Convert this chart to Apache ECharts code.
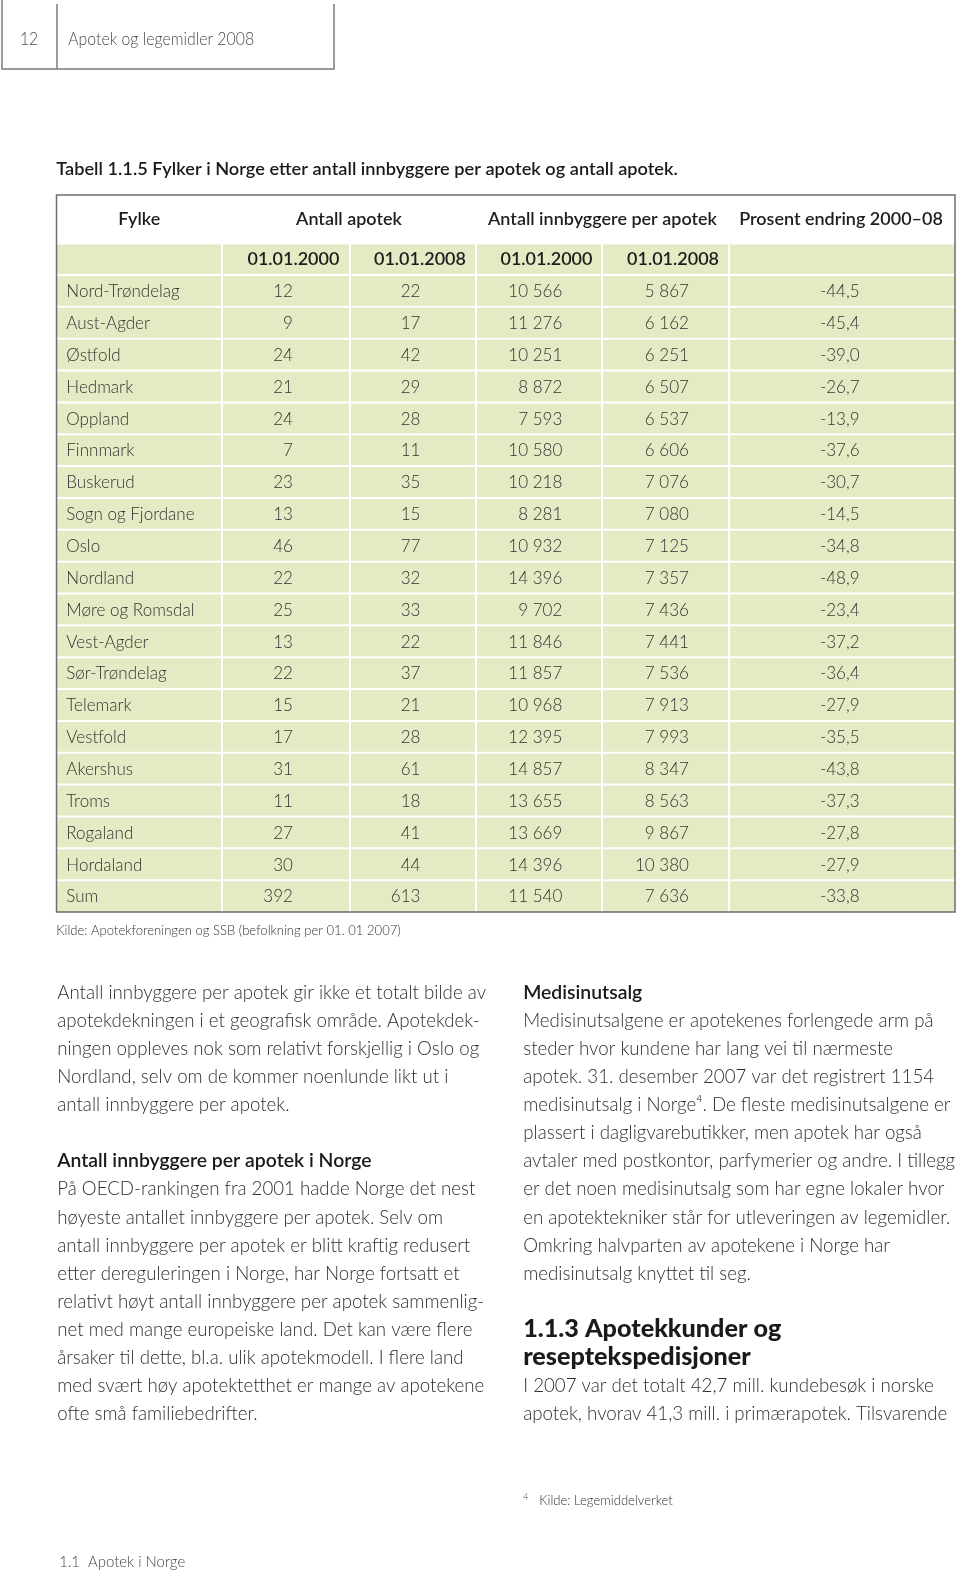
<!DOCTYPE html>
<html><head><meta charset="utf-8">
<script src="https://cdn.jsdelivr.net/npm/echarts@6/dist/echarts.min.js"></script>
<style>html,body{margin:0;padding:0;background:#fff}#c{width:960px;height:1574px}</style>
</head><body><div id="c"></div>
<script>
// ---- DATA ----
const fylker = ['Nord-Trøndelag','Aust-Agder','Østfold','Hedmark','Oppland','Finnmark','Buskerud','Sogn og Fjordane','Oslo','Nordland','Møre og Romsdal','Vest-Agder','Sør-Trøndelag','Telemark','Vestfold','Akershus','Troms','Rogaland','Hordaland','Sum'];
const apotek2000 = [12,9,24,21,24,7,23,13,46,22,25,13,22,15,17,31,11,27,30,392];
const apotek2008 = [22,17,42,29,28,11,35,15,77,32,33,22,37,21,28,61,18,41,44,613];
const innb2000 = [10566,11276,10251,8872,7593,10580,10218,8281,10932,14396,9702,11846,11857,10968,12395,14857,13655,13669,14396,11540];
const innb2008 = [5867,6162,6251,6507,6537,6606,7076,7080,7125,7357,7436,7441,7536,7913,7993,8347,8563,9867,10380,7636];
const endring = [-44.5,-45.4,-39.0,-26.7,-13.9,-37.6,-30.7,-14.5,-34.8,-48.9,-23.4,-37.2,-36.4,-27.9,-35.5,-43.8,-37.3,-27.8,-27.9,-33.8];
const headTop = ['Fylke','Antall apotek','Antall innbyggere per apotek','Prosent endring 2000–08'];
const headSub = ['01.01.2000','01.01.2008','01.01.2000','01.01.2008'];

const pageNo = '12';
const runHead = 'Apotek og legemidler 2008';
const tableTitle = 'Tabell 1.1.5 Fylker i Norge etter antall innbyggere per apotek og antall apotek.';
const kilde = 'Kilde: Apotekforeningen og SSB (befolkning per 01. 01 2007)';
const leftCol = [
 ['Antall innbyggere per apotek gir ikke et totalt bilde av',0],
 ['apotekdekningen i et geografisk område. Apotekdek-',0],
 ['ningen oppleves nok som relativt forskjellig i Oslo og',0],
 ['Nordland, selv om de kommer noenlunde likt ut i',0],
 ['antall innbyggere per apotek.',0],
 ['',0],
 ['Antall innbyggere per apotek i Norge',1],
 ['På OECD-rankingen fra 2001 hadde Norge det nest',0],
 ['høyeste antallet innbyggere per apotek. Selv om',0],
 ['antall innbyggere per apotek er blitt kraftig redusert',0],
 ['etter dereguleringen i Norge, har Norge fortsatt et',0],
 ['relativt høyt antall innbyggere per apotek sammenlig-',0],
 ['net med mange europeiske land. Det kan være flere',0],
 ['årsaker til dette, bl.a. ulik apotekmodell. I flere land',0],
 ['med svært høy apotektetthet er mange av apotekene',0],
 ['ofte små familiebedrifter.',0]
];
const rightCol = [
 ['Medisinutsalg',1],
 ['Medisinutsalgene er apotekenes forlengede arm på',0],
 ['steder hvor kundene har lang vei til nærmeste',0],
 ['apotek. 31. desember 2007 var det registrert 1154',0],
 ['medisinutsalg i Norge⁴. De fleste medisinutsalgene er',0],
 ['plassert i dagligvarebutikker, men apotek har også',0],
 ['avtaler med postkontor, parfymerier og andre. I tillegg',0],
 ['er det noen medisinutsalg som har egne lokaler hvor',0],
 ['en apotektekniker står for utleveringen av legemidler.',0],
 ['Omkring halvparten av apotekene i Norge har',0],
 ['medisinutsalg knyttet til seg.',0]
];
const sectionHead = ['1.1.3 Apotekkunder og','reseptekspedisjoner'];
const sectionBody = ['I 2007 var det totalt 42,7 mill. kundebesøk i norske','apotek, hvorav 41,3 mill. i primærapotek. Tilsvarende'];
const footnote = ['4','Kilde: Legemiddelverket'];
const footer = '1.1  Apotek i Norge';

// ---- helpers ----
const K = 960/956;
const FF = 'Lato';
const WL = '300';
const WB = '600';
const TXT = '#2e2e2e';
const cv = document.createElement('canvas').getContext('2d');
function fit(text, size, weight, target){ cv.font = weight+' '+size+'px '+FF; return target*K/cv.measureText(text).width; }
const sBody = fit(leftCol[0][0],20,WL,427);
const sBodyB = fit('Antall innbyggere per apotek i Norge',20,WB,313);
const sTab = fit('Nord-Trøndelag',18,WL,113);
const sTabB = fit('Antall innbyggere per apotek',18,WB,228);
const sTitle = fit(tableTitle,18,WB,619);
const sSec = fit(sectionHead[0],25,'900',257);
const sSmall = fit(kilde,14,WL,343);
const sRun = fit(runHead,17,WL,185);
function fmtN(v){ return String(v).replace(/\B(?=(\d{3})+(?!\d))/g,' '); }
function fmtP(v){ return v.toFixed(1).replace('.',','); }
function T(x,y,text,size,o){ o=o||{}; return {type:'text',x:x*K,y:y*K,scaleX:o.s||1,z:o.z||10,
  style:{text:text,x:0,y:0,fontSize:size,fontFamily:FF,fontWeight:o.w||WL,fill:o.c||TXT,align:o.a||'left',verticalAlign:'middle'}}; }
function L(x1,y1,x2,y2,c,w,z){ return {type:'line',z:z||20,shape:{x1:x1,y1:y1,x2:x2,y2:y2},style:{stroke:c,lineWidth:w}}; }

// table geometry (full-size px)
const TL = 56.5, TR = 955, TT = 195, SUBT = 244.5, ROWT = 275, TB = 912;
const colEdge = [TL,222,350,476,602,729,TR];
const dataAnchor = [66.3,293,420.5,562.3,689,859.6];
const GREEN = '#e3eac4';

const g = [];
// running head
g.push(L(2,0,2,69,'#7a7a7a',1.5), L(57,4,57,69,'#7a7a7a',1.5), L(334,4,334,69,'#7a7a7a',1.5), L(1.3,69,334.7,69,'#7a7a7a',1.5));
g.push(T(29,39,pageNo,17,{a:'center',c:'#4a4a4a',s:sRun}));
g.push(T(68,39,runHead,17,{c:'#4a4a4a',s:sRun}));
// title
g.push(T(56,168,tableTitle,18,{w:WB,c:'#1a1a1a',s:sTitle}));
// table header rows
g.push({type:'rect',z:1,shape:{x:TL,y:TT,width:TR-TL,height:SUBT-TT},style:{fill:'#fff'}});
g.push({type:'rect',z:1,shape:{x:TL,y:SUBT,width:TR-TL,height:ROWT-SUBT},style:{fill:GREEN}});
const topCenters = [(TL+222)/2,349,602.5,841];
headTop.forEach((h,i)=>g.push(T(topCenters[i]/K,218,h,18,{a:'center',w:WB,c:'#1e1e1e',s:sTabB})));
const subRight = [338,464,590,716];
headSub.forEach((h,i)=>g.push(T(subRight[i],258,h,18,{a:'right',w:WB,c:'#1e1e1e',s:sTabB})));
for(let k=1;k<colEdge.length-1;k++) g.push(L(colEdge[k],SUBT,colEdge[k],ROWT,'#fff',2,5));
// outer border
g.push({type:'rect',z:50,shape:{x:TL,y:TT,width:TR-TL,height:TB-TT},style:{fill:'none',stroke:'#6e6e6e',lineWidth:1.5}});
// kilde
g.push(T(56,927,kilde,14,{c:'#333',s:sSmall}));
// body columns
leftCol.forEach((l,i)=>{ if(l[0]) g.push(T(57,988+28*i,l[0],20,l[1]?{w:WB,c:'#1a1a1a',s:sBodyB}:{s:sBody})); });
rightCol.forEach((l,i)=>{ g.push(T(521,988+28*i,l[0],20,l[1]?{w:WB,c:'#1a1a1a',s:sBodyB}:{s:sBody})); });
sectionHead.forEach((l,i)=>g.push(T(521,1323+28*i,l,25,{w:'900',c:'#1a1a1a',s:sSec})));
sectionBody.forEach((l,i)=>g.push(T(521,1380+28*i,l,20,{s:sBody})));
// footnote & footer
g.push(T(521,1491,footnote[0],9,{c:'#444',s:sSmall}));
g.push(T(537,1494,footnote[1],14,{c:'#333',s:sSmall}));
g.push(T(59,1555,footer,16,{c:'#444',s:sRun}));

const rows = fylker.map((f,i)=>[i]);
const chart = echarts.init(document.getElementById('c'),null,{renderer:'canvas'});
chart.setOption({
  animation:false,
  grid:{left:TL,right:960-TR,top:ROWT,bottom:1574-TB},
  xAxis:{type:'value',min:0,max:1,show:false},
  yAxis:{type:'category',data:fylker,inverse:true,show:false},
  graphic:{elements:g},
  series:[{type:'custom',coordinateSystem:'cartesian2d',encode:{y:0},data:rows,clip:false,
    renderItem:function(params,api){
      const i = api.value(0);
      const y = api.coord([0,i])[1];
      const h = api.size([0,1])[1];
      const top = y-h/2;
      const ch = [{type:'rect',shape:{x:TL,y:top,width:TR-TL,height:h},style:{fill:GREEN}},
                  {type:'rect',shape:{x:TL,y:top-1,width:TR-TL,height:2},style:{fill:'#fff'}}];
      for(let k=1;k<colEdge.length-1;k++) ch.push({type:'rect',shape:{x:colEdge[k]-1,y:top,width:2,height:h},style:{fill:'#fff'}});
      const vals = [fylker[i],fmtN(apotek2000[i]),fmtN(apotek2008[i]),fmtN(innb2000[i]),fmtN(innb2008[i]),fmtP(endring[i])];
      vals.forEach((v,k)=>ch.push({type:'text',x:dataAnchor[k],y:y+0.5,scaleX:sTab,
        style:{text:v,x:0,y:0,fontSize:18,fontFamily:FF,fontWeight:WL,fill:'#333',align:k===0?'left':'right',verticalAlign:'middle'}}));
      return {type:'group',children:ch};
    }}]
});
</script></body></html>
